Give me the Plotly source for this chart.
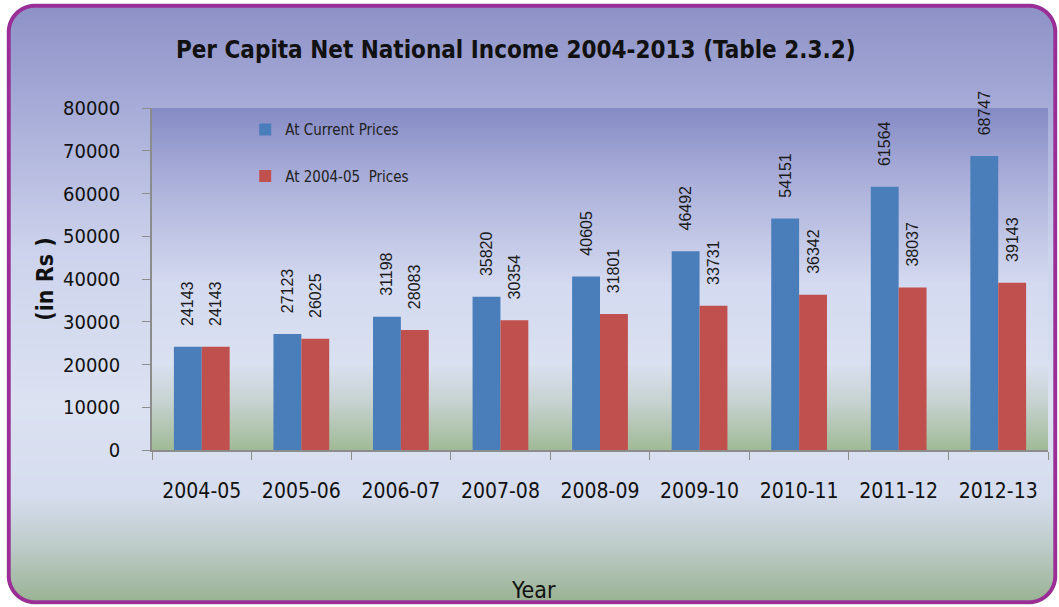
import base64
import struct
import zlib

import numpy as np
import plotly.graph_objects as go

# ---------------- data ----------------
years = ["2004-05", "2005-06", "2006-07", "2007-08", "2008-09",
         "2009-10", "2010-11", "2011-12", "2012-13"]
current_prices = [24143, 27123, 31198, 35820, 40605, 46492, 54151, 61564, 68747]
constant_prices = [24143, 26025, 28083, 30354, 31801, 33731, 36342, 38037, 39143]
y_ticks = [0, 10000, 20000, 30000, 40000, 50000, 60000, 70000, 80000]

# ---------------- geometry / style ----------------
W, H = 1059, 607
ML, MR, MT, MB = 152, 11, 108, 157
PW, PH = W - ML - MR, H - MT - MB


def interp_stops(stops, n):
    ys = np.arange(n)
    pos = [s[0] for s in stops]
    out = np.zeros((n, 3))
    for c in range(3):
        out[:, c] = np.interp(ys, pos, [s[1][c] for s in stops])
    return out


panel_stops = [
    (0, (140, 144, 198)), (100, (165, 170, 215)), (250, (205, 211, 236)),
    (400, (220, 226, 242)), (495, (214, 221, 238)), (545, (190, 204, 202)),
    (607, (150, 176, 142)),
]
plot_stops = [
    (MT, (134, 139, 197)), (MT + 70, (170, 175, 218)), (MT + 175, (212, 218, 240)),
    (MT + 255, (218, 225, 240)), (MT + 295, (198, 210, 208)), (MT + PH, (160, 186, 150)),
]

img = np.zeros((H, W, 4), dtype=np.float64)
img[:, :, :3] = interp_stops(panel_stops, H)[:, None, :]
pc = interp_stops(plot_stops, H)
img[MT:MT + PH, ML:ML + PW, :3] = pc[MT:MT + PH, None, :]

# rounded panel with purple border
x0, x1, y0, y1, r = 7, 1057, 4, 604, 28
cx, cy = (x0 + x1) / 2, (y0 + y1) / 2
hx, hy = (x1 - x0) / 2, (y1 - y0) / 2
XX, YY = np.meshgrid(np.arange(W) + 0.5, np.arange(H) + 0.5)
qx = np.abs(XX - cx) - (hx - r)
qy = np.abs(YY - cy) - (hy - r)
d = np.sqrt(np.maximum(qx, 0) ** 2 + np.maximum(qy, 0) ** 2) + np.minimum(np.maximum(qx, qy), 0) - r
alpha = np.clip(0.5 - d, 0, 1)
border = np.clip(1 - np.abs(d + 1.7) + 1.5, 0, 1)
purple = np.array([155, 45, 150])
img[:, :, :3] = img[:, :, :3] * (1 - border[..., None]) + purple * border[..., None]
img[:, :, 3] = np.maximum(alpha, border) * 255
img = np.clip(img, 0, 255).astype(np.uint8)


def to_png(a):
    h, w = a.shape[:2]
    raw = b"".join(b"\x00" + a[i].tobytes() for i in range(h))

    def chunk(tag, data):
        c = struct.pack(">I", len(data)) + tag + data
        return c + struct.pack(">I", zlib.crc32(tag + data) & 0xFFFFFFFF)

    return (b"\x89PNG\r\n\x1a\n"
            + chunk(b"IHDR", struct.pack(">IIBBBBB", w, h, 8, 6, 0, 0, 0))
            + chunk(b"IDAT", zlib.compress(raw, 9))
            + chunk(b"IEND", b""))


bg_uri = "data:image/png;base64," + base64.b64encode(to_png(img)).decode()

NARROW = "DejaVu Sans Condensed, Liberation Sans Narrow, sans-serif"
PAD = "\u00a0" * 4

fig = go.Figure()
fig.add_trace(go.Bar(
    x=years, y=current_prices, name="At Current Prices", legendgroup="a",
    marker=dict(color="#4A7EBB", line=dict(width=0)),
    text=[PAD + str(v) for v in current_prices], textposition="outside",
    textangle=-90, constraintext="none", cliponaxis=False,
    textfont=dict(family="Liberation Sans, Arial, sans-serif", size=16, color="#1a1a1a"),
))
fig.add_trace(go.Bar(
    x=years, y=constant_prices, name="At 2004-05  Prices", legendgroup="b",
    marker=dict(color="#C0504D", line=dict(width=0)),
    text=[PAD + str(v) for v in constant_prices], textposition="outside",
    textangle=-90, constraintext="none", cliponaxis=False,
    textfont=dict(family="Liberation Sans, Arial, sans-serif", size=16, color="#1a1a1a"),
))

fig.update_layout(
    width=W, height=H,
    margin=dict(l=ML, r=MR, t=MT, b=MB, pad=0),
    paper_bgcolor="white", plot_bgcolor="rgba(0,0,0,0)",
    barmode="group", bargap=0.44, bargroupgap=0,
    title=dict(text="<b>Per Capita Net National Income 2004-2013 (Table 2.3.2)</b>",
               x=0.487, xanchor="center", y=0.918, yanchor="middle",
               font=dict(family=NARROW, size=24, color="#111111")),
    legend=dict(x=0.104, y=0.985, xanchor="left", yanchor="top",
                bgcolor="rgba(0,0,0,0)", borderwidth=0, tracegroupgap=24,
                traceorder="grouped",
                font=dict(family=NARROW, size=15, color="#222222")),
    showlegend=True,
    images=[dict(source=bg_uri, xref="paper", yref="paper",
                 x=-ML / PW, y=1 + MT / PH, sizex=W / PW, sizey=H / PH,
                 xanchor="left", yanchor="top", sizing="stretch", layer="below")],
    annotations=[dict(text="Year", xref="paper", yref="paper",
                      x=(533 - ML) / PW, y=-(590 - (MT + PH)) / PH,
                      xanchor="center", yanchor="middle", showarrow=False,
                      font=dict(family=NARROW, size=23, color="#111111"))],
)
fig.update_xaxes(
    type="category",
    showline=True, linecolor="#8c8c8c", linewidth=1.5,
    ticks="outside", tickson="boundaries", ticklen=8, tickcolor="#8c8c8c",
    ticklabelstandoff=21,
    tickfont=dict(family=NARROW, size=21, color="#111111"),
    showgrid=False, zeroline=False,
)
fig.update_yaxes(
    range=[0, 80000], tickvals=y_ticks, tickformat="d",
    showline=True, linecolor="#8c8c8c", linewidth=1.5,
    ticks="outside", ticklen=8, tickcolor="#8c8c8c",
    ticklabelstandoff=18,
    tickfont=dict(family=NARROW, size=20, color="#111111"),
    showgrid=False, zeroline=False,
    title=dict(text="<b>(in Rs )</b>", standoff=3,
               font=dict(family=NARROW, size=23, color="#111111")),
)

fig.write_html("out.html", config={"displayModeBar": False},
               post_script="document.body.style.margin='0';")
